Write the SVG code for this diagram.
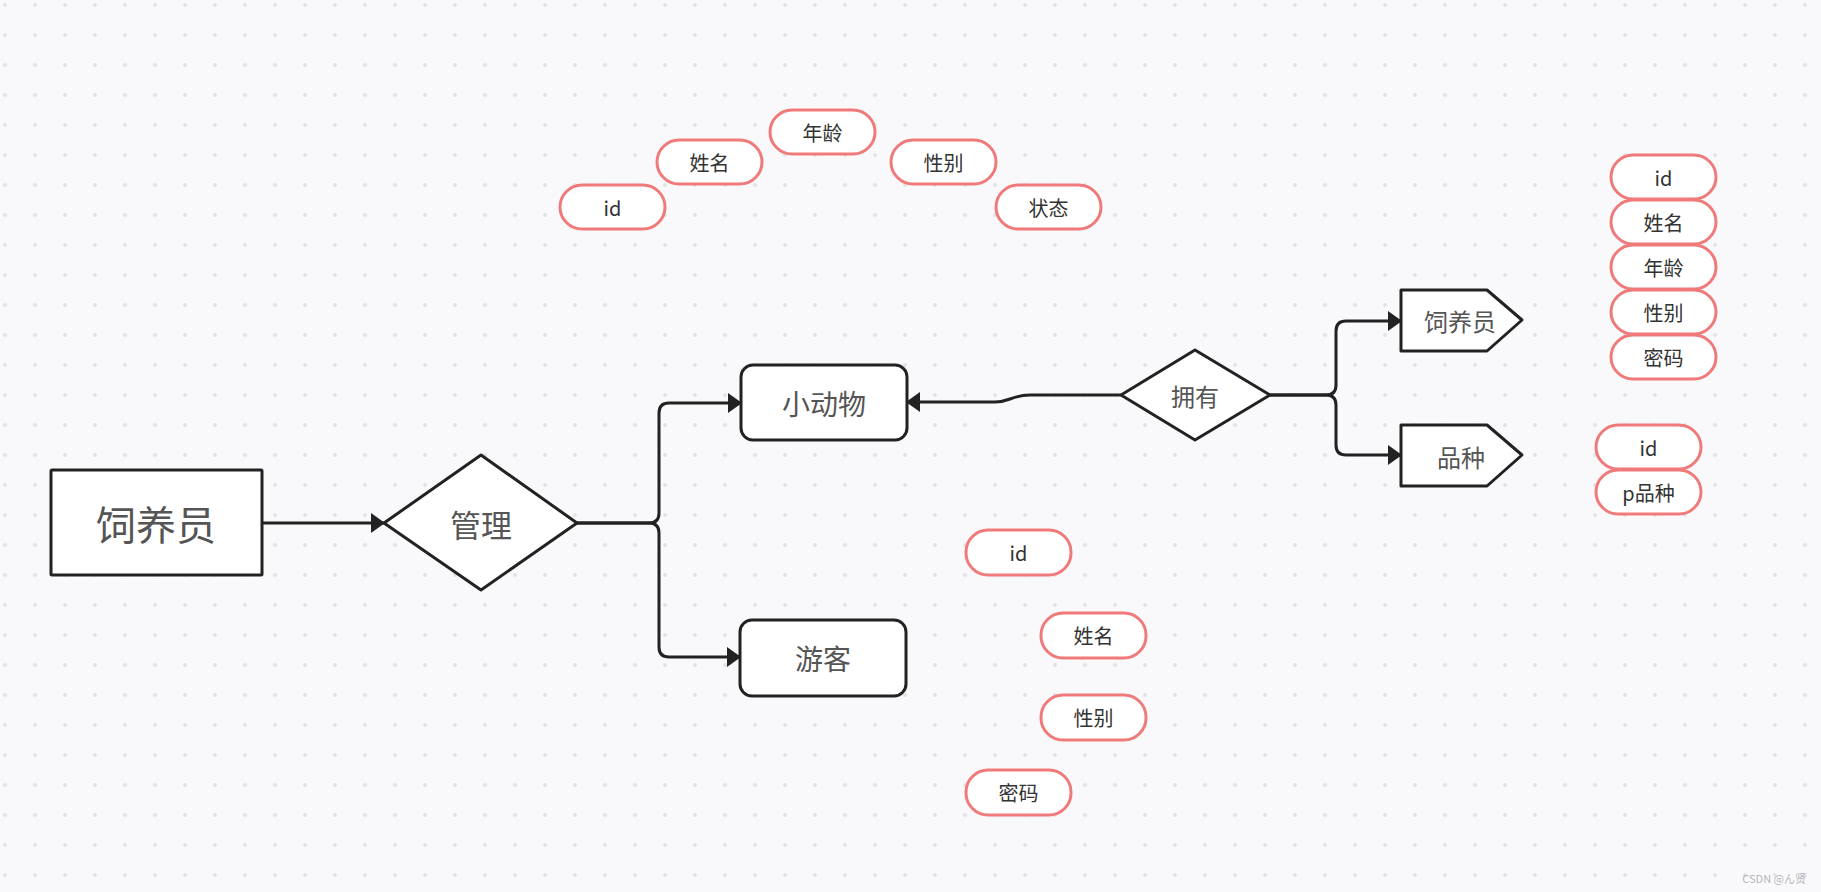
<svg xmlns="http://www.w3.org/2000/svg" width="1821" height="892" viewBox="0 0 1821 892">
<style>
.ent{fill:#fff;stroke:#222;stroke-width:3;stroke-linejoin:round}
.attr{fill:#fff;stroke:#f07a7a;stroke-width:3}
.lbl{font-family:"Noto Sans CJK SC","Liberation Sans",sans-serif;fill:#555;text-anchor:middle;dominant-baseline:central}
.at{font-family:"Noto Sans CJK SC","Liberation Sans",sans-serif;fill:#333;font-size:20px;text-anchor:middle;dominant-baseline:central}
.conn{fill:none;stroke:#222;stroke-width:3;marker-end:url(#arr)}
</style>
<defs>
<pattern id="dots" x="0" y="0" width="30" height="30" patternUnits="userSpaceOnUse">
<circle cx="5" cy="5" r="2" fill="#e3e3e7"/>
</pattern>
<marker id="arr" viewBox="0 0 14 20" refX="13" refY="10" markerWidth="14" markerHeight="20" markerUnits="userSpaceOnUse" orient="auto">
<path d="M0,0 L14,10 L0,20 Z" fill="#222"/>
</marker>
</defs>
<rect width="1821" height="892" fill="#f9f9fb"/>
<rect width="1821" height="892" fill="url(#dots)"/>

<g id="connectors">
<path class="conn" d="M262,523 L384,523"/>
<path class="conn" d="M577,523 L649,523 Q659,523 659,513 L659,413 Q659,403 669,403 L741,403"/>
<path class="conn" d="M577,523 L649,523 Q659,523 659,533 L659,647 Q659,657 669,657 L740,657"/>
<path class="conn" d="M1121,395 L1030,395 Q1020,395 1010,399 Q1002,402 995,402 L907,402"/>
<path class="conn" d="M1270,395 L1326,395 Q1336,395 1336,385 L1336,331 Q1336,321 1346,321 L1401,321"/>
<path class="conn" d="M1270,395 L1326,395 Q1336,395 1336,405 L1336,445 Q1336,455 1346,455 L1401,455"/>
</g>

<g id="node-siyangyuan">
<rect class="ent" x="51" y="470" width="211" height="105" rx="1"/>
<text class="lbl" x="156" y="523" font-size="40">饲养员</text>
</g>
<g id="node-guanli">
<polygon class="ent" points="384,523 481,455 577,523 481,590"/>
<text class="lbl" x="481" y="523" font-size="31">管理</text>
</g>
<g id="node-xiaodongwu">
<rect class="ent" x="741" y="365" width="166" height="75" rx="12"/>
<text class="lbl" x="824" y="403" font-size="28">小动物</text>
</g>
<g id="node-youke">
<rect class="ent" x="740" y="620" width="166" height="76" rx="12"/>
<text class="lbl" x="823" y="658" font-size="28">游客</text>
</g>
<g id="node-yongyou">
<polygon class="ent" points="1121,395 1195,350 1270,395 1195,440"/>
<text class="lbl" x="1195" y="395" font-size="24">拥有</text>
</g>
<g id="node-siyangyuan2">
<polygon class="ent" points="1401,290 1487,290 1522,320 1487,351 1401,351"/>
<text class="lbl" x="1460" y="320" font-size="24">饲养员</text>
</g>
<g id="node-pinzhong">
<polygon class="ent" points="1401,425 1487,425 1522,455 1487,486 1401,486"/>
<text class="lbl" x="1461" y="456" font-size="24">品种</text>
</g>

<g id="attr-top-id"><rect class="attr" x="560" y="185" width="105" height="44" rx="22"/><text class="at" x="612.5" y="207">id</text></g>
<g id="attr-top-name"><rect class="attr" x="657" y="140" width="105" height="44" rx="22"/><text class="at" x="709.5" y="162">姓名</text></g>
<g id="attr-top-age"><rect class="attr" x="770" y="110" width="105" height="44" rx="22"/><text class="at" x="822.5" y="132">年龄</text></g>
<g id="attr-top-sex"><rect class="attr" x="891" y="140" width="105" height="44" rx="22"/><text class="at" x="943.5" y="162">性别</text></g>
<g id="attr-top-state"><rect class="attr" x="996" y="185" width="105" height="44" rx="22"/><text class="at" x="1048.5" y="207">状态</text></g>

<g id="attr-r-id"><rect class="attr" x="1611" y="155" width="105" height="44" rx="22"/><text class="at" x="1663.5" y="177">id</text></g>
<g id="attr-r-name"><rect class="attr" x="1611" y="200" width="105" height="44" rx="22"/><text class="at" x="1663.5" y="222">姓名</text></g>
<g id="attr-r-age"><rect class="attr" x="1611" y="245" width="105" height="44" rx="22"/><text class="at" x="1663.5" y="267">年龄</text></g>
<g id="attr-r-sex"><rect class="attr" x="1611" y="290" width="105" height="44" rx="22"/><text class="at" x="1663.5" y="312">性别</text></g>
<g id="attr-r-pwd"><rect class="attr" x="1611" y="335" width="105" height="44" rx="22"/><text class="at" x="1663.5" y="357">密码</text></g>

<g id="attr-p-id"><rect class="attr" x="1596" y="425" width="105" height="44" rx="22"/><text class="at" x="1648.5" y="447">id</text></g>
<g id="attr-p-kind"><rect class="attr" x="1596" y="470" width="105" height="44" rx="22"/><text class="at" x="1648.5" y="492">p品种</text></g>

<g id="attr-b-id"><rect class="attr" x="966" y="530" width="105" height="45" rx="22"/><text class="at" x="1018.5" y="552">id</text></g>
<g id="attr-b-name"><rect class="attr" x="1041" y="613" width="105" height="45" rx="22"/><text class="at" x="1093.5" y="635">姓名</text></g>
<g id="attr-b-sex"><rect class="attr" x="1041" y="695" width="105" height="45" rx="22"/><text class="at" x="1093.5" y="717">性别</text></g>
<g id="attr-b-pwd"><rect class="attr" x="966" y="770" width="105" height="45" rx="22"/><text class="at" x="1018.5" y="792">密码</text></g>

<text x="1806" y="878" font-family="Noto Sans CJK SC,Liberation Sans,sans-serif" font-size="11" fill="#b5b5b8" text-anchor="end" dominant-baseline="central">CSDN @ん贤</text>
</svg>
